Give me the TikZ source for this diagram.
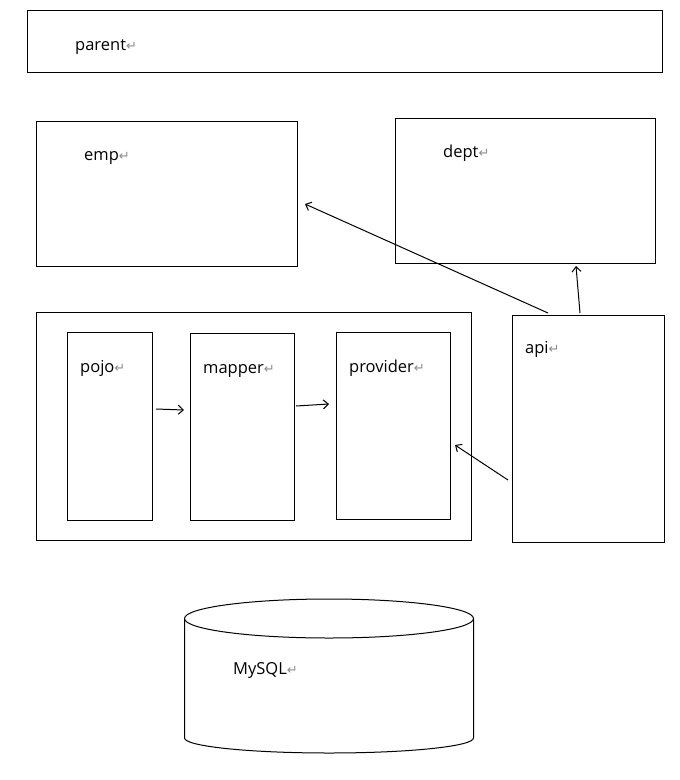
\documentclass[tikz,border=0pt]{standalone}
\usepackage{fontspec}
\setmainfont{Open Sans}
\newfontfamily\symfont{DejaVu Sans}
\usetikzlibrary{arrows.meta,calc}
\newcommand{\parmark}{{\symfont\fontsize{13}{14}\selectfont\color{black!45}\char"21B5}}
\begin{document}
\begin{tikzpicture}[x=1pt,y=-1pt,
  box/.style={draw=black, line width=1pt, inner sep=0pt, outer sep=0pt},
  lbl/.style={anchor=base west, inner sep=0pt, font=\fontsize{16.5}{20}\selectfont},
  arr/.style={line width=1pt, -{Straight Barb[length=5pt,width=9pt]}}]
\useasboundingbox[fill=white] (0,0) rectangle (680,780);
% boxes
\node[box, minimum width=635pt, minimum height=62pt] (parent) at (344.5,41) {};
\node[box, minimum width=261pt, minimum height=145pt] (emp) at (166.5,193.5) {};
\node[box, minimum width=260pt, minimum height=145pt] (dept) at (525,190.5) {};
\node[box, minimum width=435pt, minimum height=228pt] (outer) at (253.5,426) {};
\node[box, minimum width=85pt, minimum height=188pt] (pojo) at (109.5,426) {};
\node[box, minimum width=104pt, minimum height=187pt] (mapper) at (242,426.5) {};
\node[box, minimum width=114pt, minimum height=187pt] (provider) at (393,425.5) {};
\node[box, minimum width=152pt, minimum height=227pt] (api) at (588,428.5) {};
% cylinder
\draw[line width=1pt] (184.5,618.5) -- (184.5,738)
  arc[start angle=180, end angle=360, x radius=144.5, y radius=-15]
  -- (473.5,618.5);
\draw[line width=1pt] (329,618.5) ellipse[x radius=144.5, y radius=19.5];
\coordinate (mysql) at (329,680);
% labels
\node[lbl] (tparent) at (75,50.5) {parent\parmark};
\node[lbl] (temp) at (84,160.5) {emp\parmark};
\node[lbl] (tdept) at (443,157.5) {dept\parmark};
\node[lbl] (tpojo) at (80,372.5) {pojo\parmark};
\node[lbl] (tmapper) at (203,373.5) {mapper\parmark};
\node[lbl] (tprovider) at (349,372.5) {provider\parmark};
\node[lbl] (tapi) at (525,353.5) {api\parmark};
\node[lbl] (tmysql) at (233,674) {MySQL\parmark};
% arrows
\draw[arr] ($(pojo.east)+(4,-17)$) -- ($(mapper.west)+(-6,-16.5)$);
\draw[arr] ($(mapper.east)+(2,-20.5)$) -- ($(provider.west)+(-7,-21.5)$);
\draw[arr] ($(api.west)+(-4,51.5)$) -- ($(provider.east)+(5,19.5)$);
\draw[arr] ($(api.north)+(-40,-2)$) -- ($(emp.east)+(8,10.5)$);
\draw[arr] ($(api.north)+(-8,-2)$) -- ($(dept.south)+(51,3)$);
\end{tikzpicture}
\end{document}
